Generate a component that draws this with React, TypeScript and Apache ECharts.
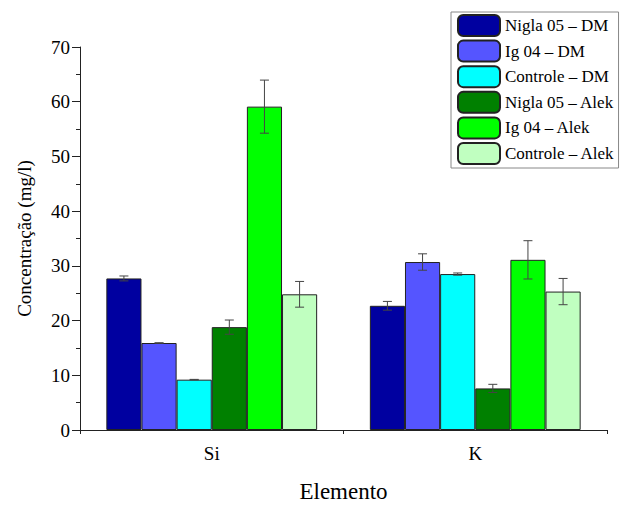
import React, { useEffect, useRef } from "react";
import * as echarts from "echarts";

const categories = ["Si", "K"];
const seriesNames = [
  "Nigla 05 – DM",
  "Ig 04 – DM",
  "Controle – DM",
  "Nigla 05 – Alek",
  "Ig 04 – Alek",
  "Controle – Alek",
];
const colors = ["#0000A0", "#5555FF", "#00FFFF", "#008000", "#00FF00", "#C0FFC0"];
const values = [
  [27.7, 22.7],
  [15.9, 30.7],
  [9.2, 28.5],
  [18.8, 7.6],
  [59.1, 31.1],
  [24.8, 25.3],
];
const errors = [
  [0.45, 0.8],
  [0.05, 1.5],
  [0.05, 0.2],
  [1.3, 0.75],
  [4.85, 3.5],
  [2.35, 2.4],
];
const yTicks = [0, 10, 20, 30, 40, 50, 60, 70];

const FONT = "serif";

export default function App() {
  const ref = useRef<HTMLDivElement>(null);
  useEffect(() => {
    const chart = echarts.init(ref.current!, null, { renderer: "svg" });
    const nSeries = seriesNames.length;
    const barSeries = seriesNames.map((name, i) => ({
      name,
      type: "bar",
      data: values[i],
      barGap: "0%",
      barCategoryGap: "20%",
      itemStyle: { color: colors[i], borderColor: "#222", borderWidth: 1 },
      z: 2,
    }));
    const errSeries = seriesNames.map((name, i) => ({
      name: name + " err",
      type: "custom",
      z: 5,
      data: values[i].map((v, c) => [c, v - errors[i][c], v + errors[i][c]]),
      renderItem: (params: any, api: any) => {
        const c = api.value(0);
        const lo = api.coord([c, api.value(1)]);
        const hi = api.coord([c, api.value(2)]);
        const band = api.size([1, 0])[0];
        const bw = (band * 0.8) / nSeries;
        const x = lo[0] + (i - (nSeries - 1) / 2) * bw;
        const cap = 4.5;
        const style = { stroke: "#444", lineWidth: 1 };
        return {
          type: "group",
          children: [
            { type: "line", shape: { x1: x, y1: lo[1], x2: x, y2: hi[1] }, style },
            { type: "line", shape: { x1: x - cap, y1: lo[1], x2: x + cap, y2: lo[1] }, style },
            { type: "line", shape: { x1: x - cap, y1: hi[1], x2: x + cap, y2: hi[1] }, style },
          ],
        };
      },
    }));
    const option = {
      animation: false,
      grid: { left: 80, right: 23, top: 47, bottom: 74 },
      legend: {
        data: seriesNames,
        orient: "vertical",
        left: 451,
        top: 12,
        itemWidth: 42,
        itemHeight: 21,
        itemGap: 2.6,
        padding: [2, 4, 3, 6],
        borderColor: "#888",
        borderWidth: 1,
        backgroundColor: "#fff",
        textStyle: { fontFamily: FONT, fontSize: 17, color: "#000", lineHeight: 21 },
      },
      xAxis: [
        {
          type: "category",
          data: categories,
          axisLine: { lineStyle: { color: "#222", width: 1 } },
          axisTick: { alignWithLabel: true, length: 9, lineStyle: { color: "#222" } },
          axisLabel: { fontFamily: FONT, fontSize: 19, color: "#000", margin: 14 },
          name: "Elemento",
          nameLocation: "middle",
          nameGap: 50,
          nameTextStyle: { fontFamily: FONT, fontSize: 23, color: "#000" },
        },
        {
          type: "category",
          data: categories,
          position: "bottom",
          axisLine: { show: false },
          axisTick: { show: true, length: 4, lineStyle: { color: "#222" } },
          axisLabel: { show: false },
        },
      ],
      yAxis: {
        type: "value",
        min: yTicks[0],
        max: yTicks[yTicks.length - 1],
        interval: 10,
        axisLine: { show: true, lineStyle: { color: "#222", width: 1 } },
        axisTick: { show: true, length: 8, lineStyle: { color: "#222" } },
        minorTick: { show: true, splitNumber: 2, length: 4, lineStyle: { color: "#222" } },
        splitLine: { show: false },
        axisLabel: { fontFamily: FONT, fontSize: 19, color: "#000", margin: 10 },
        name: "Concentração (mg/l)",
        nameLocation: "middle",
        nameGap: 46,
        nameTextStyle: { fontFamily: FONT, fontSize: 19, color: "#000" },
      },
      series: [...barSeries, ...errSeries],
    };
    chart.setOption(option);
    let alive = true;
    const fonts = (document as any).fonts;
    if (fonts && fonts.load) {
      fonts
        .load("19px serif")
        .then(() => {
          if (alive) chart.setOption(option, true);
        })
        .catch(() => {});
    }
    return () => {
      alive = false;
      chart.dispose();
    };
  }, []);
  return (
    <div
      ref={ref}
      style={{ position: "absolute", left: 0, top: 0, width: 630, height: 508 }}
    />
  );
}
